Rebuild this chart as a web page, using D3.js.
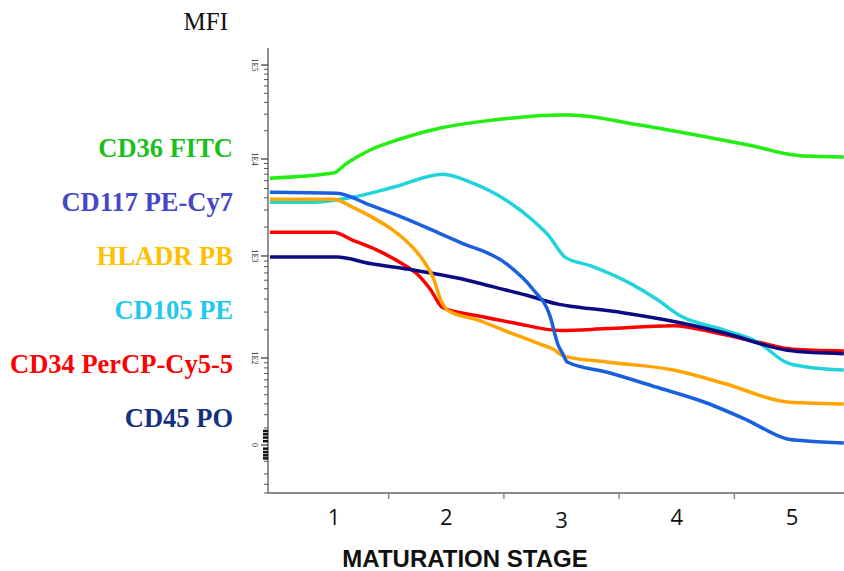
<!DOCTYPE html>
<html>
<head>
<meta charset="utf-8">
<script src="https://cdn.jsdelivr.net/npm/d3@7/dist/d3.min.js"></script>
<style>
  html, body { margin: 0; padding: 0; background: #fff; }
  svg { display: block; }
</style>
</head>
<body>
<svg id="chart" width="844" height="571"></svg>
<script>
// Maturation stage categories along the x axis
const stageLabels = ["1", "2", "3", "4", "5"];

// Mean fluorescence intensity (MFI) per marker, sampled along the maturation axis
const cd36Stage  = [0.47, 1.02, 1.14, 1.34, 1.60, 1.95, 2.41, 2.99, 3.07, 3.68, 4.26, 4.70, 4.96, 5.10, 5.45];
const cd36Mfi    = [6370, 7180, 9100, 12470, 16330, 21370, 26000, 29400, 29400, 23000, 17140, 13420, 11300, 10760, 10500];

const cd117Stage = [0.47, 1.05, 1.34, 1.62, 1.92, 2.12, 2.52, 2.75, 2.90, 2.97, 3.01, 3.05, 3.39, 3.82, 4.26, 4.61, 4.96, 5.13, 5.45];
const cd117Mfi   = [4570, 4460, 3360, 2520, 1770, 1390, 853, 497, 276, 140, 112, 91.5, 72.6, 49.7, 30.9, 15.7, 3.2, 2.1, 1.0];

const hladrStage = [0.47, 1.02, 1.19, 1.36, 1.54, 1.69, 1.80, 1.89, 1.95, 2.02, 2.27, 2.55, 2.81, 2.93, 3.02, 3.39, 3.97, 4.40, 4.96, 5.13, 5.45];
const hladrMfi   = [3870, 3870, 3200, 2520, 1850, 1300, 914, 622, 396, 309, 252, 188, 143, 125, 105, 91.5, 76.2, 55.3, 31.9, 30.9, 29.9];

const cd105Stage = [0.47, 0.82, 1.19, 1.54, 1.97, 2.23, 2.52, 2.75, 2.90, 2.99, 3.03, 3.25, 3.62, 3.83, 4.03, 4.40, 4.70, 4.96, 5.13, 5.45];
const cd105Mfi   = [3610, 3610, 4055, 5140, 7000, 5660, 3780, 2350, 1570, 1100, 977, 816, 543, 396, 276, 201, 150, 89.5, 81.7, 76.2];

const cd34Stage  = [0.47, 1.02, 1.19, 1.40, 1.60, 1.75, 1.86, 1.97, 2.27, 2.58, 2.99, 3.39, 3.97, 4.40, 4.70, 5.01, 5.45];
const cd34Mfi    = [1770, 1770, 1460, 1150, 873, 681, 497, 331, 276, 236, 197, 206, 220, 180, 150, 125, 120];

const cd45Stage  = [0.47, 1.05, 1.34, 1.71, 2.12, 2.41, 2.70, 2.99, 3.05, 3.53, 4.03, 4.40, 4.96, 5.18, 5.45];
const cd45Mfi    = [977, 977, 853, 746, 622, 520, 434, 354, 346, 296, 236, 188, 122, 115, 112];

// Marker names and colours (line colour, legend text colour)
const markerNames  = ["CD36 FITC", "CD117 PE-Cy7", "HLADR PB", "CD105 PE", "CD34 PerCP-Cy5-5", "CD45 PO"];
const lineColors   = ["#22ee11", "#1a60dc", "#ffa400", "#22d4da", "#ff0000", "#0c0c82"];
const legendColors = ["#1cbf1c", "#4646c8", "#ffc000", "#1ec8f0", "#ff0000", "#15307f"];

// Y axis decade labels
const majorTickValues = [0, 100, 1000, 10000, 100000];
const majorTickLabels = ["0", "1E2", "1E3", "1E4", "1E5"];

const svg = d3.select("#chart");

// Biexponential-like display: symlog segments per decade
const y = d3.scaleSymlog().constant(30)
  .domain([-40, 0, 100, 1000, 10000, 100000, 152000])
  .range([493, 445, 358, 256, 159, 65, 48]);

const x = d3.scaleLinear().domain([1, 5]).range([331, 792]);
const xLeft = 268, xRight = 844;

// Minor ticks: log positions inside each decade, linear near zero
const minorTicks = [];
[100, 1000, 10000].forEach(d => { for (let k = 2; k <= 9; k++) minorTicks.push(k * d); });
for (let k = 10; k <= 90; k += 10) minorTicks.push(k);
[-10, -20, -30, -40].forEach(v => minorTicks.push(v));
const zeroCluster = [-8, -6, -4, -2, 2, 4, 6, 8];

// Y axis
const yAxisG = svg.append("g");
yAxisG.append("line")
  .attr("x1", xLeft).attr("x2", xLeft).attr("y1", 48).attr("y2", 493)
  .attr("stroke", "#6e6e6e").attr("stroke-width", 1.5);
yAxisG.selectAll("line.minor").data(minorTicks).join("line")
  .attr("class", "minor")
  .attr("x1", xLeft - 4).attr("x2", xLeft)
  .attr("y1", d => y(d)).attr("y2", d => y(d))
  .attr("stroke", "#555").attr("stroke-width", 1);
yAxisG.selectAll("line.zero").data(zeroCluster).join("line")
  .attr("class", "zero")
  .attr("x1", xLeft - 5).attr("x2", xLeft)
  .attr("y1", d => y(d)).attr("y2", d => y(d))
  .attr("stroke", "#111").attr("stroke-width", 2.5);
yAxisG.selectAll("line.major").data(majorTickValues).join("line")
  .attr("class", "major")
  .attr("x1", xLeft - 7).attr("x2", xLeft)
  .attr("y1", d => y(d)).attr("y2", d => y(d))
  .attr("stroke", "#333").attr("stroke-width", 1.2);
yAxisG.selectAll("text").data(majorTickValues).join("text")
  .attr("transform", d => `translate(255,${y(d)}) rotate(90)`)
  .attr("text-anchor", "middle")
  .attr("dy", "0.35em")
  .attr("font-family", "Liberation Serif, serif")
  .attr("font-size", 8)
  .attr("fill", "#222")
  .text((d, i) => majorTickLabels[i]);

// X axis
const xAxisG = svg.append("g");
xAxisG.append("line")
  .attr("x1", xLeft).attr("x2", xRight).attr("y1", 493).attr("y2", 493)
  .attr("stroke", "#8a8a8a").attr("stroke-width", 2);
const halfTicks = [1.5, 2.5, 3.5, 4.5];
xAxisG.selectAll("line.tick").data(halfTicks).join("line")
  .attr("class", "tick")
  .attr("x1", d => x(d)).attr("x2", d => x(d))
  .attr("y1", 493).attr("y2", 499)
  .attr("stroke", "#8a8a8a").attr("stroke-width", 1.5);
xAxisG.selectAll("text").data(stageLabels).join("text")
  .attr("x", (d, i) => x(i + 1) + (i === 0 ? 3 : 0))
  .attr("y", (d, i) => i === 2 ? 528 : 525)
  .attr("text-anchor", "middle")
  .attr("font-family", "Open Sans, Liberation Sans, sans-serif")
  .attr("font-size", 22)
  .attr("fill", "#111")
  .text(d => d);

// Axis titles
svg.append("text")
  .attr("x", 465).attr("y", 567)
  .attr("text-anchor", "middle")
  .attr("font-family", "Liberation Sans, Arial, sans-serif")
  .attr("font-weight", "bold")
  .attr("font-size", 24)
  .attr("fill", "#111")
  .text("MATURATION STAGE");
svg.append("text")
  .attr("x", 228).attr("y", 29.5)
  .attr("text-anchor", "end")
  .attr("font-family", "Liberation Serif, Times New Roman, serif")
  .attr("font-size", 25)
  .attr("fill", "#111")
  .text("MFI");

// Marker curves
const series = [
  { stage: cd34Stage,  mfi: cd34Mfi,  idx: 4 },
  { stage: cd105Stage, mfi: cd105Mfi, idx: 3 },
  { stage: cd45Stage,  mfi: cd45Mfi,  idx: 5 },
  { stage: hladrStage, mfi: hladrMfi, idx: 2 },
  { stage: cd117Stage, mfi: cd117Mfi, idx: 1 },
  { stage: cd36Stage,  mfi: cd36Mfi,  idx: 0 }
];
const line = d3.line()
  .x(d => x(d[0]))
  .y(d => y(d[1]))
  .curve(d3.curveMonotoneX);

svg.append("defs").append("clipPath").attr("id", "plotClip")
  .append("rect").attr("x", xLeft + 1).attr("y", 40).attr("width", xRight - xLeft).attr("height", 450);

svg.append("g").attr("clip-path", "url(#plotClip)")
  .selectAll("path").data(series).join("path")
  .attr("d", s => line(s.stage.map((v, i) => [v, s.mfi[i]])))
  .attr("fill", "none")
  .attr("stroke", s => lineColors[s.idx])
  .attr("stroke-width", 3.5)
  .attr("stroke-linejoin", "round");

// Legend: marker names stacked at the left
svg.append("g").selectAll("text").data(markerNames).join("text")
  .attr("x", 233)
  .attr("y", (d, i) => 157 + i * 54)
  .attr("text-anchor", "end")
  .attr("font-family", "Liberation Serif, Times New Roman, serif")
  .attr("font-weight", "bold")
  .attr("font-size", 26.5)
  .attr("fill", (d, i) => legendColors[i])
  .text(d => d);
</script>
</body>
</html>
